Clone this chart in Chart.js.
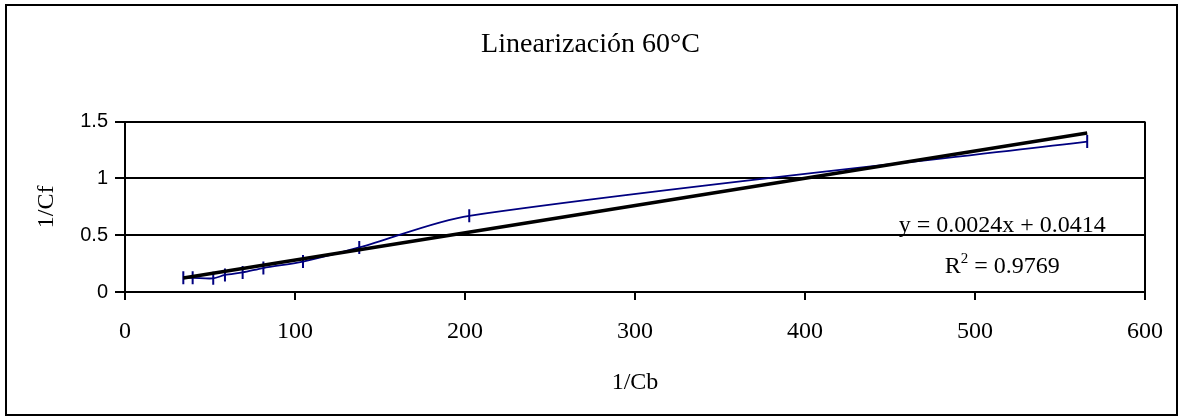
<!DOCTYPE html>
<html>
<head>
<meta charset="utf-8">
<script src="https://cdn.jsdelivr.net/npm/chart.js@4"></script>
<style>
    body { margin: 0; background: #ffffff; }
    #contenedor { position: relative; width: 1181px; height: 419px; }
    #marco { position: absolute; left: 5px; top: 4px; width: 1169px; height: 408px; border: 2px solid #000000; pointer-events: none; }
</style>
</head>
<body>
<div id="contenedor">
    <canvas id="grafico" width="1181" height="419"></canvas>
    <div id="marco"></div>
</div>
<script>
// valores
let inversoCb = [34.3, 39.8, 51.9, 58.8, 69.2, 81.4, 104.7, 137.8, 202.5, 566];
let inversoCf = [0.125, 0.125, 0.12, 0.15, 0.172, 0.211, 0.268, 0.392, 0.671, 1.324];

// linea de tendencia (segun la ecuacion del grafico)
let pendiente = 0.0024;
let ordenada = 0.0414;
let textoEcuacion = 'y = 0.0024x + 0.0414';
let textoR2 = ' = 0.9769';

let ticksX = [0, 100, 200, 300, 400, 500, 600];
let ticksY = [0, 0.5, 1, 1.5];

let serif = '"Liberation Serif", "Times New Roman", serif';
let sans = '"Liberation Sans", Arial, sans-serif';

let puntos = [];
for (let i = 0; i < inversoCb.length; i++) {
    puntos.push({ x: inversoCb[i], y: inversoCf[i] });
}

let xInicio = inversoCb[0];
let xFin = inversoCb[inversoCb.length - 1];
let tendencia = [
    { x: xInicio, y: pendiente * xInicio + ordenada },
    { x: xFin, y: pendiente * xFin + ordenada }
];

// etiqueta de la ecuacion y R2
let etiquetaTendencia = {
    id: 'etiquetaTendencia',
    afterDatasetsDraw: function(chart) {
        let ctx = chart.ctx;
        let escX = chart.scales.x;
        let escY = chart.scales.y;
        let cx = escX.getPixelForValue(516);
        ctx.save();
        ctx.fillStyle = '#000000';
        ctx.textBaseline = 'alphabetic';
        ctx.font = '24px ' + serif;
        ctx.textAlign = 'center';
        ctx.fillText(textoEcuacion, cx, escY.getPixelForValue(0.527));

        let yR = escY.getPixelForValue(0.165);
        let anchoR = ctx.measureText('R').width;
        ctx.font = '15px ' + serif;
        let anchoDos = ctx.measureText('2').width;
        ctx.font = '24px ' + serif;
        let anchoResto = ctx.measureText(textoR2).width;
        let total = anchoR + anchoDos + anchoResto;
        let x0 = cx - total / 2;
        ctx.textAlign = 'left';
        ctx.fillText('R', x0, yR);
        ctx.font = '15px ' + serif;
        ctx.fillText('2', x0 + anchoR, yR - 10);
        ctx.font = '24px ' + serif;
        ctx.fillText(textoR2, x0 + anchoR + anchoDos, yR);
        ctx.restore();
    }
};

let ctx = document.getElementById('grafico');

new Chart(ctx, {
    type: 'scatter',
    data: {
        datasets: [
            {
                label: 'Lineal',
                data: tendencia,
                showLine: true,
                borderColor: '#000000',
                borderWidth: 3.5,
                pointRadius: 0,
                tension: 0,
                order: 0
            },
            {
                label: '1/Cf',
                data: puntos,
                showLine: true,
                borderColor: '#000080',
                backgroundColor: '#000080',
                borderWidth: 1.8,
                tension: 0.3,
                pointStyle: 'line',
                pointRotation: 90,
                pointRadius: 6.5,
                pointBorderWidth: 2,
                pointBorderColor: '#000080',
                order: 1
            }
        ]
    },
    options: {
        responsive: false,
        animation: false,
        events: [],
        layout: {
            padding: 0
        },
        plugins: {
            legend: { display: false },
            tooltip: { enabled: false },
            title: {
                display: true,
                text: 'Linearización 60°C',
                color: '#000000',
                font: { family: serif, size: 28, weight: 'normal' },
                padding: { top: 28, bottom: 60 }
            }
        },
        scales: {
            x: {
                type: 'linear',
                min: 0,
                max: 600,
                afterFit: function(escala) { escala.height = 127; },
                afterBuildTicks: function(escala) {
                    escala.ticks = ticksX.map(function(v) { return { value: v }; });
                },
                border: { display: true, color: '#000000', width: 2 },
                grid: {
                    drawOnChartArea: true,
                    color: function(c) {
                        if (c.tick && c.tick.value === 600) {
                            return '#000000';
                        }
                        return 'rgba(0,0,0,0)';
                    },
                    lineWidth: 2,
                    tickColor: '#000000',
                    tickLength: 8,
                    tickWidth: 2
                },
                ticks: {
                    color: '#000000',
                    font: { family: serif, size: 24 },
                    padding: 17,
                    maxRotation: 0
                },
                title: {
                    display: true,
                    text: '1/Cb',
                    color: '#000000',
                    font: { family: serif, size: 24 },
                    padding: { top: 0, bottom: 22 }
                }
            },
            y: {
                type: 'linear',
                min: 0,
                max: 1.5,
                afterFit: function(escala) { escala.width = 125; },
                afterBuildTicks: function(escala) {
                    escala.ticks = ticksY.map(function(v) { return { value: v }; });
                },
                border: { display: true, color: '#000000', width: 2 },
                grid: {
                    color: '#000000',
                    lineWidth: 2,
                    tickLength: 10,
                    tickWidth: 2
                },
                ticks: {
                    color: '#000000',
                    font: { family: sans, size: 20 },
                    padding: 7,
                    callback: function(valor) { return String(valor); }
                },
                title: {
                    display: true,
                    text: '1/Cf',
                    color: '#000000',
                    font: { family: serif, size: 24 },
                    padding: { top: 32, bottom: 0 }
                }
            },
            // eje vacio a la derecha solo para dejar el margen
            derecha: {
                type: 'linear',
                position: 'right',
                display: true,
                afterFit: function(escala) { escala.width = 36; },
                grid: { display: false },
                border: { display: false },
                ticks: { display: false }
            }
        }
    },
    plugins: [etiquetaTendencia]
});
</script>
</body>
</html>
